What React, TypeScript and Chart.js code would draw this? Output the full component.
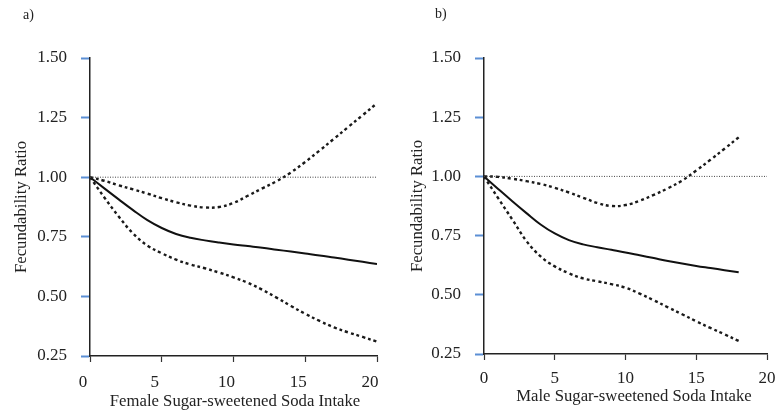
import React, { useEffect, useRef } from "react";
import { Chart, registerables } from "chart.js";

Chart.register(...registerables);

const FONT = "'Liberation Serif', 'Times New Roman', Times, serif";

// Panel a) female
const femaleX = [0, 1, 2, 3, 4, 5, 6, 7, 8, 9, 10, 11, 12, 13, 14, 15, 16, 17, 18, 19, 20];
const femaleEstimate = [1.0, 0.953, 0.907, 0.862, 0.82, 0.787, 0.762, 0.746, 0.735, 0.726, 0.718, 0.711, 0.704, 0.696, 0.688, 0.68, 0.672, 0.663, 0.654, 0.645, 0.636];
const femaleUpper = [1.0, 0.985, 0.966, 0.949, 0.931, 0.912, 0.895, 0.881, 0.873, 0.875, 0.892, 0.922, 0.953, 0.983, 1.02, 1.064, 1.112, 1.161, 1.211, 1.26, 1.31];
const femaleLower = [1.0, 0.915, 0.835, 0.764, 0.713, 0.681, 0.654, 0.634, 0.618, 0.6, 0.58, 0.557, 0.528, 0.495, 0.46, 0.427, 0.397, 0.37, 0.349, 0.33, 0.31];

// Panel b) male
const maleX = [0, 1, 2, 3, 4, 5, 6, 7, 8, 9, 10, 11, 12, 13, 14, 15, 16, 17, 18];
const maleEstimate = [1.0, 0.947, 0.895, 0.845, 0.797, 0.759, 0.731, 0.713, 0.701, 0.69, 0.679, 0.667, 0.655, 0.643, 0.632, 0.622, 0.613, 0.604, 0.595];
const maleUpper = [1.0, 0.998, 0.99, 0.98, 0.968, 0.952, 0.932, 0.91, 0.888, 0.875, 0.879, 0.897, 0.922, 0.95, 0.982, 1.025, 1.07, 1.117, 1.165];
const maleLower = [1.0, 0.908, 0.818, 0.727, 0.662, 0.62, 0.591, 0.569, 0.557, 0.545, 0.53, 0.505, 0.477, 0.447, 0.418, 0.388, 0.36, 0.333, 0.305];

const refX = [0, 20];
const refY = [1, 1];

const yTicks = [0.25, 0.5, 0.75, 1.0, 1.25, 1.5];
const xTicks = [0, 5, 10, 15, 20];

const yTitle = "Fecundability Ratio";
const femaleTitle = "Female Sugar-sweetened Soda Intake";
const maleTitle = "Male Sugar-sweetened Soda Intake";

const pts = (xs: number[], ys: number[]) => xs.map((x, i) => ({ x, y: ys[i] }));

type Cfg = {
  yWidth: number;
  padRight: number;
  xHeight: number;
  yTitlePad: number;
  xTickPad: number;
  xTitleY: number;
  xTitleShift: number;
  labelOffset: number;
};

function Panel(props: {
  left: number;
  xs: number[];
  est: number[];
  upper: number[];
  lower: number[];
  xTitle: string;
  cfg: Cfg;
}) {
  const ref = useRef<HTMLCanvasElement | null>(null);
  useEffect(() => {
    const { xs, est, upper, lower, xTitle, cfg } = props;
    const dashed = {
      borderColor: "#1a1a1a",
      borderWidth: 2.4,
      borderDash: [3, 3],
      pointRadius: 0,
      tension: 0.4,
      fill: false,
    };
    const xTitlePlugin = {
      id: "xTitleShifted",
      afterDraw(chart: any) {
        const { ctx, chartArea } = chart;
        ctx.save();
        ctx.font = `16.7px ${FONT}`;
        ctx.fillStyle = "#222";
        ctx.textAlign = "center";
        ctx.textBaseline = "middle";
        ctx.fillText(xTitle, (chartArea.left + chartArea.right) / 2 + cfg.xTitleShift, cfg.xTitleY);
        ctx.restore();
      },
    };
    const chart = new Chart(ref.current as HTMLCanvasElement, {
      type: "line",
      data: {
        datasets: [
          {
            data: pts(refX, refY),
            borderColor: "#444",
            borderWidth: 1,
            borderDash: [1, 1.5],
            pointRadius: 0,
          },
          { data: pts(xs, upper), ...dashed },
          { data: pts(xs, lower), ...dashed },
          {
            data: pts(xs, est),
            borderColor: "#111",
            borderWidth: 2,
            pointRadius: 0,
            tension: 0.4,
          },
        ],
      },
      plugins: [xTitlePlugin],
      options: {
        responsive: false,
        animation: false,
        devicePixelRatio: 1,
        layout: { padding: { left: 0, right: cfg.padRight, top: 58, bottom: 0 } },
        plugins: { legend: { display: false }, tooltip: { enabled: false } },
        scales: {
          x: {
            type: "linear",
            min: 0,
            max: 20,
            afterBuildTicks: (s: any) => {
              s.ticks = xTicks.map((v) => ({ value: v }));
            },
            afterFit: (s: any) => {
              s.height = cfg.xHeight;
              s.paddingLeft = 0;
              s.paddingRight = 0;
            },
            grid: {
              drawOnChartArea: false,
              drawTicks: true,
              tickLength: 6,
              tickColor: "#333",
              tickWidth: 1.2,
            },
            border: { display: true, color: "#222", width: 1.5 },
            ticks: {
              color: "#222",
              padding: cfg.xTickPad,
              labelOffset: cfg.labelOffset,
              font: { family: FONT, size: 17 },
              maxRotation: 0,
              callback: (v: any) => String(v),
            },
            title: { display: false },
          },
          y: {
            type: "linear",
            min: 0.25,
            max: 1.5,
            afterBuildTicks: (s: any) => {
              s.ticks = yTicks.map((v) => ({ value: v }));
            },
            afterFit: (s: any) => {
              s.width = cfg.yWidth;
              s.paddingTop = 0;
              s.paddingBottom = 0;
            },
            grid: {
              drawOnChartArea: false,
              drawTicks: true,
              tickLength: 9,
              tickColor: "#5b8fd4",
              tickWidth: 2,
            },
            border: { display: true, color: "#222", width: 1.5 },
            ticks: {
              color: "#222",
              padding: 14,
              font: { family: FONT, size: 17 },
              callback: (v: any) => Number(v).toFixed(2),
            },
            title: {
              display: true,
              text: yTitle,
              color: "#222",
              font: { family: FONT, size: 16.7 },
              padding: { top: cfg.yTitlePad, bottom: 0 },
            },
          },
        },
      },
    } as any);
    return () => chart.destroy();
  }, []);
  return (
    <canvas
      ref={ref}
      width={388}
      height={413}
      style={{ position: "absolute", left: props.left, top: 0, width: 388, height: 413, display: "block" }}
    />
  );
}

const labelStyle: React.CSSProperties = {
  position: "absolute",
  fontFamily: FONT,
  fontSize: 14,
  lineHeight: "14px",
  color: "#222",
};

export default function App() {
  return (
    <div style={{ position: "fixed", left: 0, top: 0, width: 776, height: 413, background: "#fff", overflow: "hidden" }}>
      <Panel
        left={0}
        xs={femaleX}
        est={femaleEstimate}
        upper={femaleUpper}
        lower={femaleLower}
        xTitle={femaleTitle}
        cfg={{ yWidth: 90, padRight: 11, xHeight: 57, yTitlePad: 12, xTickPad: 10, xTitleY: 402, xTitleShift: 1.5, labelOffset: -7 }}
      />
      <Panel
        left={388}
        xs={maleX}
        est={maleEstimate}
        upper={maleUpper}
        lower={maleLower}
        xTitle={maleTitle}
        cfg={{ yWidth: 96, padRight: 9, xHeight: 59, yTitlePad: 20, xTickPad: 8, xTitleY: 396.5, xTitleShift: 8.5, labelOffset: 0 }}
      />
      <div style={{ ...labelStyle, left: 23, top: 8 }}>a)</div>
      <div style={{ ...labelStyle, left: 435, top: 7 }}>b)</div>
    </div>
  );
}
